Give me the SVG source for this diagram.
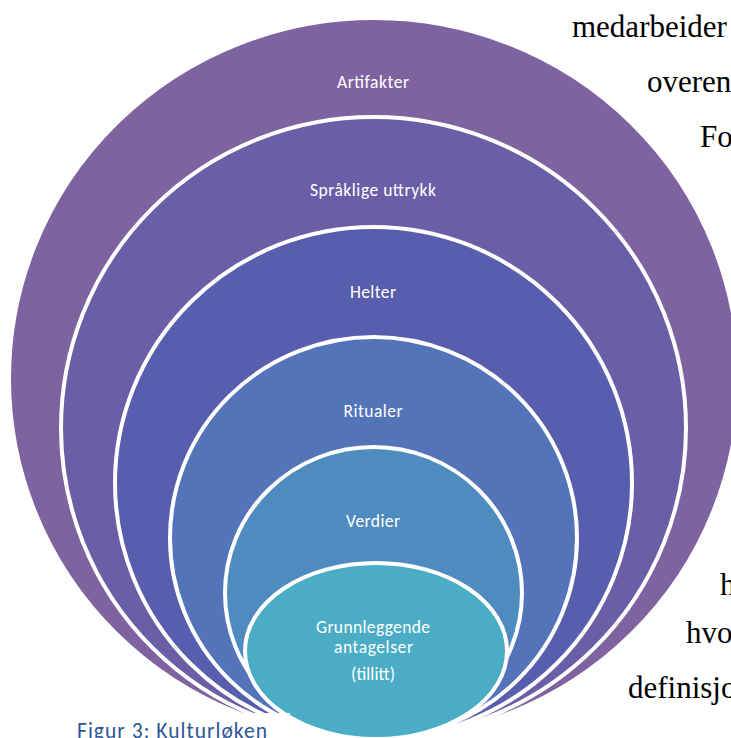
<svg xmlns="http://www.w3.org/2000/svg" width="731" height="738" viewBox="0 0 731 738">
  <style>
    .ring { stroke: #ffffff; stroke-width: 4; }
    .lbl { font-family: Calibri, Carlito, Lato, "Open Sans", sans-serif; font-size: 17.5px; fill: #ffffff; text-anchor: middle; }
    .body { font-family: "Times New Roman", "Liberation Serif", serif; font-size: 31px; fill: #000000; }
    .cap { font-family: Calibri, Carlito, Lato, "Open Sans", sans-serif; font-size: 21.5px; fill: #2c5596; }
  </style>
  <rect width="731" height="738" fill="#ffffff"/>

  <!-- culture onion: nested layers, all touching at the bottom -->
  <g id="artifakter">
    <ellipse class="ring" cx="374" cy="378.5" rx="365" ry="360.5" fill="#7f63a0"/>
    <text class="lbl" x="373" y="87.5" textLength="72">Artifakter</text>
  </g>
  <g id="spraklige-uttrykk">
    <ellipse class="ring" cx="373.5" cy="428" rx="312.5" ry="311" fill="#6b5ea6"/>
    <text class="lbl" x="373" y="196" textLength="126">Språklige uttrykk</text>
  </g>
  <g id="helter">
    <ellipse class="ring" cx="373.5" cy="483" rx="258.5" ry="256" fill="#585eae"/>
    <text class="lbl" x="373" y="298" textLength="46">Helter</text>
  </g>
  <g id="ritualer">
    <ellipse class="ring" cx="373.5" cy="538" rx="203.5" ry="201" fill="#5474b9"/>
    <text class="lbl" x="373" y="417" textLength="59">Ritualer</text>
  </g>
  <g id="verdier">
    <ellipse class="ring" cx="373.5" cy="593" rx="148.5" ry="146" fill="#4e8cc0"/>
    <text class="lbl" x="373" y="527" textLength="54">Verdier</text>
  </g>
  <g id="grunnleggende-antagelser">
    <ellipse class="ring" cx="376" cy="651" rx="131" ry="88" fill="#4aadc5"/>
    <text class="lbl" x="373" y="632.5" textLength="114">Grunnleggende</text>
    <text class="lbl" x="373.5" y="652.5" textLength="79">antagelser</text>
    <text class="lbl" x="373" y="680" textLength="44">(tillitt)</text>
  </g>

  <!-- caption box -->
  <g id="caption">
    <rect x="60" y="713" width="230" height="25" fill="#ffffff"/>
    <text class="cap" x="77" y="737.5" textLength="190">Figur 3: Kulturløken</text>
  </g>

  <!-- surrounding body text, cut at the right edge -->
  <g id="body-text">
    <text class="body" x="572" y="37">medarbeider</text>
    <text class="body" x="647" y="92">overenm</text>
    <text class="body" x="700" y="147">Fo</text>
    <text class="body" x="720" y="595">h</text>
    <text class="body" x="686" y="643">hvo</text>
    <text class="body" x="628" y="698">definisjo</text>
  </g>
</svg>
